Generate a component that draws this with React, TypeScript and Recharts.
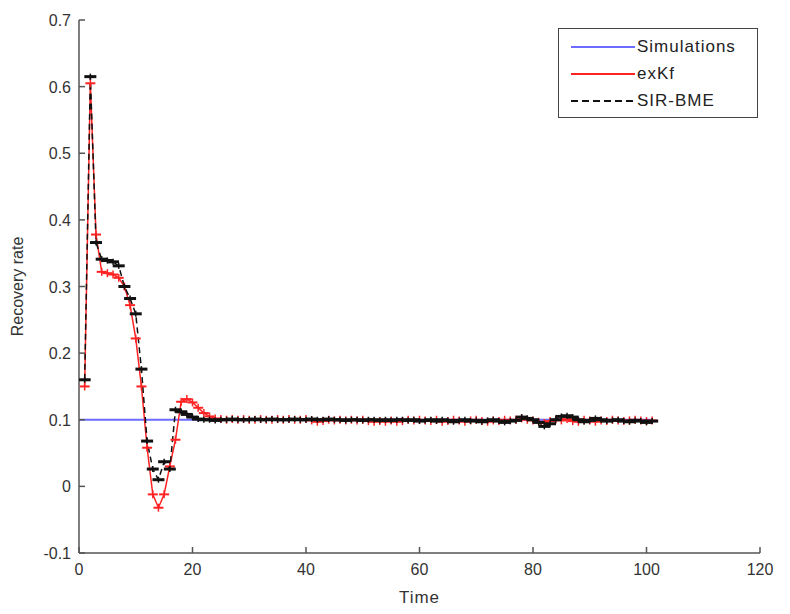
import React from 'react';
import { LineChart, Line, XAxis, YAxis, Legend } from 'recharts';

// axis ticks
const timeTicks = [0, 20, 40, 60, 80, 100, 120];
const rateTicks = [-0.1, 0, 0.1, 0.2, 0.3, 0.4, 0.5, 0.6, 0.7];

// Simulations: flat reference level
const simTime = [0, 101];
const simulations = [0.1, 0.1];

// exKf, t = 1..101
const exKf = [
  0.15, 0.605, 0.378, 0.322, 0.32, 0.318, 0.313, 0.3, 0.272, 0.222,
  0.15, 0.058, -0.012, -0.032, -0.012, 0.03, 0.07, 0.127, 0.131, 0.126,
  0.118, 0.11, 0.105, 0.102, 0.101,
  0.1, 0.101, 0.1, 0.101, 0.1, 0.1, 0.101, 0.1, 0.1, 0.101, 0.1, 0.101, 0.1, 0.1, 0.101,
  0.099, 0.097, 0.098, 0.1, 0.099, 0.1, 0.099, 0.1, 0.099, 0.1,
  0.098, 0.097, 0.098, 0.097, 0.099, 0.097, 0.098, 0.1, 0.099, 0.1,
  0.099, 0.098, 0.1, 0.097, 0.098, 0.1, 0.099, 0.097, 0.099, 0.1,
  0.098, 0.097, 0.099, 0.098, 0.1, 0.099, 0.1, 0.102, 0.1, 0.099,
  0.097, 0.095, 0.098, 0.1, 0.099, 0.101, 0.098, 0.097, 0.1, 0.099,
  0.097, 0.099, 0.098, 0.1, 0.099, 0.098, 0.099, 0.1, 0.099, 0.098, 0.099,
];

// SIR-BME, t = 1..101
const sirBme = [
  0.16, 0.615, 0.366, 0.341, 0.339, 0.337, 0.331, 0.3, 0.282, 0.259,
  0.176, 0.068, 0.026, 0.01, 0.037, 0.026, 0.115, 0.112, 0.108, 0.104,
  0.101, 0.1,
  0.1, 0.099, 0.1, 0.1, 0.101, 0.1, 0.1, 0.1, 0.101, 0.1, 0.1, 0.101, 0.1, 0.1, 0.1, 0.101, 0.1, 0.1,
  0.101, 0.1, 0.1, 0.101, 0.1, 0.1, 0.099, 0.1, 0.1, 0.099,
  0.1, 0.1, 0.099, 0.1, 0.099, 0.1, 0.1, 0.099, 0.1, 0.098,
  0.099, 0.1, 0.098, 0.1, 0.099, 0.097, 0.099, 0.1, 0.098, 0.099,
  0.097, 0.099, 0.1, 0.098, 0.096, 0.098, 0.099, 0.104, 0.102, 0.1,
  0.096, 0.09, 0.094, 0.1, 0.105, 0.106, 0.104, 0.1, 0.097, 0.099,
  0.102, 0.1, 0.098, 0.099, 0.1, 0.098, 0.097, 0.099, 0.098, 0.096, 0.098,
];

const seriesNames = ['Simulations', 'exKf', 'SIR-BME'];

const simData = simTime.map((t, i) => ({ t, v: simulations[i] }));
const exKfData = exKf.map((v, i) => ({ t: i + 1, v }));
const sirData = sirBme.map((v, i) => ({ t: i + 1, v }));

const BLUE = '#6b6bff';
const RED = '#ff2222';
const BLACK = '#111';
const AXIS = '#555';
const FONT = '"Liberation Sans", Arial, Helvetica, sans-serif';

const XTick = ({ x, y, payload }: any) => (
  <g>
    <line x1={x} x2={x} y1={y} y2={y - 6} stroke={AXIS} strokeWidth={1.5} />
    <text x={x} y={y + 22} textAnchor="middle" fill="#333" fontSize={16} fontFamily={FONT}>
      {payload.value}
    </text>
  </g>
);

const YTick = ({ x, y, payload }: any) => {
  const v = payload.value;
  const label = Math.abs(v) < 1e-9 ? '0' : v.toFixed(1);
  return (
    <g>
      <line x1={x} x2={x + 6} y1={y} y2={y} stroke={AXIS} strokeWidth={1.5} />
      <text x={x - 8} y={y + 6} textAnchor="end" fill="#333" fontSize={16} fontFamily={FONT}>
        {label}
      </text>
    </g>
  );
};

const redDot = (p: any) => {
  const { cx, cy, index } = p;
  if (cx == null || cy == null) return <g key={`r${index}`} />;
  return (
    <g key={`r${index}`}>
      <line x1={cx - 5} x2={cx + 5} y1={cy} y2={cy} stroke={RED} strokeWidth={2} />
      <line x1={cx} x2={cx} y1={cy - 4} y2={cy + 4} stroke={RED} strokeWidth={1.5} />
    </g>
  );
};

const blackDot = (p: any) => {
  const { cx, cy, index } = p;
  if (cx == null || cy == null) return <g key={`b${index}`} />;
  return (
    <g key={`b${index}`}>
      <line x1={cx - 6} x2={cx + 6} y1={cy} y2={cy} stroke={BLACK} strokeWidth={3} />
      <line x1={cx} x2={cx} y1={cy - 3} y2={cy + 3} stroke={BLACK} strokeWidth={1.5} />
    </g>
  );
};

const legendStyles = [
  { color: BLUE, dash: undefined },
  { color: RED, dash: undefined },
  { color: BLACK, dash: '7 4' },
];

const renderLegend = () => (
  <div
    style={{
      border: '1.5px solid #444',
      background: '#fff',
      height: 90,
      boxSizing: 'border-box',
      paddingTop: 4,
      paddingLeft: 12,
      fontFamily: FONT,
    }}
  >
    {seriesNames.map((name, i) => (
      <div key={name} style={{ display: 'flex', alignItems: 'center', height: 27 }}>
        <svg width={64} height={10} style={{ marginRight: 2 }}>
          <line
            x1={0}
            x2={64}
            y1={5}
            y2={5}
            stroke={legendStyles[i].color}
            strokeWidth={2}
            strokeDasharray={legendStyles[i].dash}
          />
        </svg>
        <span style={{ fontSize: 17, color: '#222', letterSpacing: 1 }}>{name}</span>
      </div>
    ))}
  </div>
);

export default function App() {
  return (
    <div style={{ width: 774, height: 598, background: '#fff' }}>
      <LineChart width={774} height={598} margin={{ top: 12, right: 22, bottom: 0, left: 0 }}>
        <XAxis
          type="number"
          dataKey="t"
          domain={[0, 120]}
          ticks={timeTicks}
          allowDataOverflow
          height={53}
          tickSize={0}
          tickMargin={0}
          tickLine={false}
          tick={<XTick />}
          axisLine={{ stroke: AXIS, strokeWidth: 1.5 }}
          label={{
            value: 'Time',
            position: 'insideBottom',
            offset: 3,
            fill: '#333',
            fontSize: 17,
            fontFamily: FONT,
            letterSpacing: 1,
          }}
        />
        <YAxis
          type="number"
          domain={[-0.1, 0.7]}
          ticks={rateTicks}
          allowDataOverflow
          width={71}
          tickSize={0}
          tickMargin={0}
          tickLine={false}
          tick={<YTick />}
          axisLine={{ stroke: AXIS, strokeWidth: 1.5 }}
          label={{
            value: 'Recovery rate',
            angle: -90,
            position: 'insideLeft',
            offset: 9,
            fill: '#333',
            fontSize: 16,
            fontFamily: FONT,
            style: { textAnchor: 'middle' },
          }}
        />
        <Legend
          content={renderLegend}
          layout="vertical"
          align="center"
          verticalAlign="middle"
          wrapperStyle={{ top: 20, left: 550, width: 200, height: 90 }}
        />
        <Line
          data={simData}
          dataKey="v"
          name={seriesNames[0]}
          stroke={BLUE}
          strokeWidth={2}
          dot={false}
          isAnimationActive={false}
        />
        <Line
          data={exKfData}
          dataKey="v"
          name={seriesNames[1]}
          stroke={RED}
          strokeWidth={1.5}
          dot={redDot}
          isAnimationActive={false}
        />
        <Line
          data={sirData}
          dataKey="v"
          name={seriesNames[2]}
          stroke={BLACK}
          strokeWidth={1.5}
          strokeDasharray="6 4"
          dot={blackDot}
          isAnimationActive={false}
        />
      </LineChart>
    </div>
  );
}
